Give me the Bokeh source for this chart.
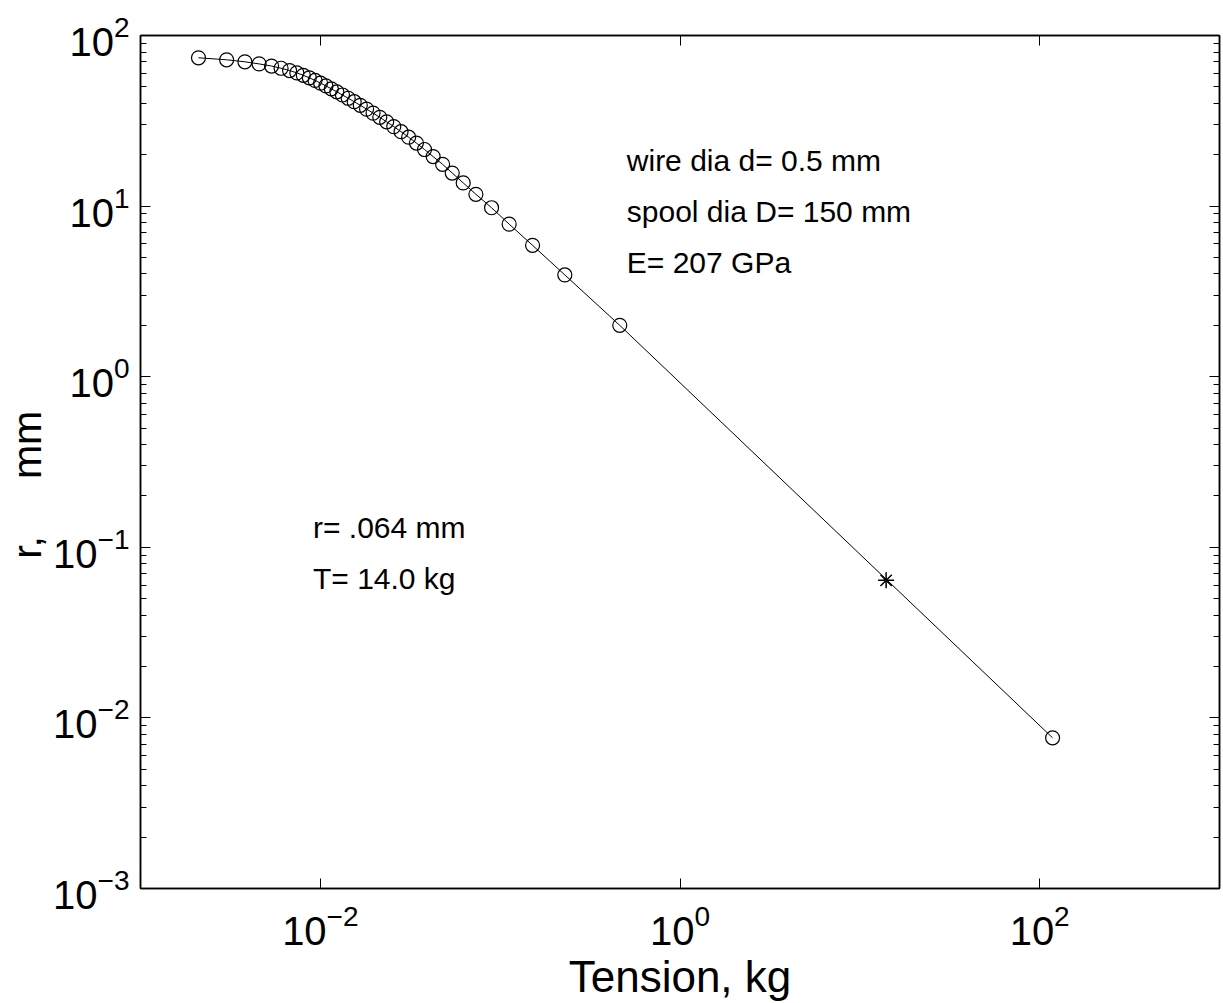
from bokeh.plotting import figure
from bokeh.models import LogAxis, FixedTicker, Label, Range1d, CustomJSTickFormatter
from bokeh.embed import file_html
from bokeh.resources import INLINE

# ---- data ----
tension_kg = [0.002101, 0.003012, 0.003807, 0.004565, 0.005356, 0.006049, 0.006745,
              0.007403, 0.008044, 0.008688, 0.009346, 0.010025, 0.010742, 0.01151,
              0.01235, 0.01327, 0.01429, 0.01543, 0.01668, 0.01808, 0.01965, 0.02141,
              0.02338, 0.02561, 0.02811, 0.03098, 0.03423, 0.03797, 0.04238, 0.04786,
              0.05412, 0.06230, 0.07328, 0.08957, 0.1122, 0.1514, 0.2288, 0.4624, 118.0]
radius_mm = [74.0, 72.05, 70.11, 68.16, 66.22, 64.27, 62.32, 60.38, 58.43, 56.49,
             54.54, 52.59, 50.65, 48.70, 46.76, 44.81, 42.86, 40.92, 38.97, 37.03,
             35.08, 33.14, 31.19, 29.24, 27.30, 25.35, 23.41, 21.46, 19.51, 17.57,
             15.62, 13.68, 11.73, 9.78, 7.84, 5.89, 3.95, 2.0, 0.00764]
design_T = [14.0]
design_r = [0.064]

x_ticks = [1e-2, 1e0, 1e2]
y_ticks = [1e-3, 1e-2, 1e-1, 1e0, 1e1, 1e2]
y_minor = [m * 10.0 ** e for e in range(-3, 2) for m in range(2, 10)]

info_lines = ["wire dia d= 0.5 mm", "spool dia D= 150 mm", "E= 207 GPa"]
info_y = [18.5, 9.3, 4.67]
info_x = 0.506
result_lines = ["r= .064 mm", "T= 14.0 kg"]
result_y = [0.1306, 0.0656]
result_x = 0.0091

FONT = "Liberation Sans"
NB = "\u00a0"

p = figure(x_axis_type="log", y_axis_type="log",
           x_range=Range1d(1e-3, 1e3), y_range=Range1d(1e-3, 1e2),
           frame_width=1079, frame_height=853,
           min_border_left=140, min_border_right=4, min_border_top=35,
           min_border_bottom=115,
           output_backend="svg", toolbar_location=None,
           background_fill_color="white", border_fill_color="white")
p.xgrid.visible = False
p.ygrid.visible = False
p.outline_line_color = "black"
p.outline_line_width = 1.5

def style(ax):
    ax.axis_line_color = "black"
    ax.axis_line_width = 1.5
    ax.major_tick_in = 10
    ax.major_tick_out = 0
    ax.minor_tick_in = 6
    ax.minor_tick_out = 0
    ax.major_tick_line_color = "black"
    ax.minor_tick_line_color = "black"
    ax.major_tick_line_width = 1
    ax.minor_tick_line_width = 1
    ax.major_label_text_font = FONT
    ax.major_label_text_color = "black"
    ax.major_label_text_font_size = "40px"

xa = p.xaxis[0]
xa.ticker = FixedTicker(ticks=x_ticks, minor_ticks=[])
style(xa)
xa.major_label_standoff = 15
xa.axis_label = "Tension, kg"
xa.axis_label_text_font = FONT
xa.axis_label_text_font_size = "44px"
xa.axis_label_text_font_style = "normal"
xa.axis_label_text_color = "black"
xa.axis_label_standoff = 4

ya = p.yaxis[0]
ya.ticker = FixedTicker(ticks=y_ticks, minor_ticks=y_minor)
style(ya)
ya.major_label_standoff = 11
ya.axis_label = "r," + NB * 5 + "mm" + NB * 4
ya.axis_label_text_font = FONT
ya.axis_label_text_font_size = "41px"
ya.axis_label_text_font_style = "normal"
ya.axis_label_text_color = "black"
ya.axis_label_standoff = 0

top = LogAxis(ticker=FixedTicker(ticks=x_ticks, minor_ticks=[]),
              formatter=CustomJSTickFormatter(code="return '';"))
style(top)
top.major_label_standoff = 0
top.major_label_text_font_size = "1px"
p.add_layout(top, "above")
right = LogAxis(ticker=FixedTicker(ticks=y_ticks, minor_ticks=y_minor),
                formatter=CustomJSTickFormatter(code="return '';"))
style(right)
right.major_label_standoff = 0
right.major_label_text_font_size = "1px"
p.add_layout(right, "right")

p.line(tension_kg, radius_mm, line_color="black", line_width=1)
p.scatter(tension_kg, radius_mm, marker="circle", size=14, fill_color=None,
          line_color="black", line_width=1.2)
p.scatter(design_T, design_r, marker="asterisk", size=16, line_color="black",
          line_width=1.5)

for txt, yy in zip(info_lines, info_y):
    p.add_layout(Label(x=info_x, y=yy, text=txt, text_font=FONT, text_font_size="30px",
                       text_baseline="middle", text_align="left", text_color="black"))
for txt, yy in zip(result_lines, result_y):
    p.add_layout(Label(x=result_x, y=yy, text=txt, text_font=FONT, text_font_size="30px",
                       text_baseline="middle", text_align="left", text_color="black"))

open("out.html", "w").write(file_html(p, INLINE))
